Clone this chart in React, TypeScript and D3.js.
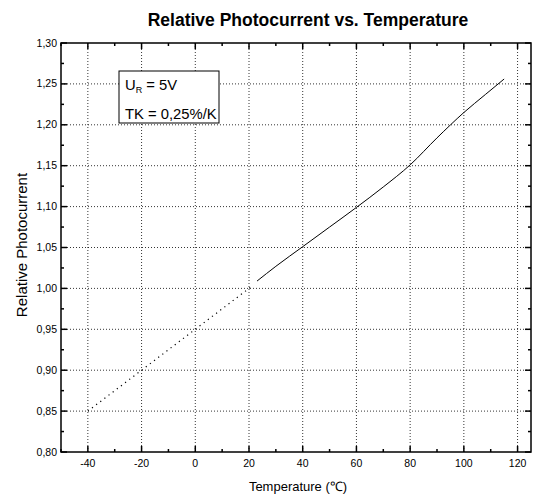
import React from "react";
import * as d3 from "d3";

const xTicks = [-40, -20, 0, 20, 40, 60, 80, 100, 120];
const yTicks = [0.8, 0.85, 0.9, 0.95, 1.0, 1.05, 1.1, 1.15, 1.2, 1.25, 1.3];
const dottedT = [-40, -20, 0, 20, 21.5];
const dottedV = [0.85, 0.9, 0.95, 1.0, 1.004];
const solidT = [23, 30, 40, 50, 60, 70, 80, 90, 100, 108, 115];
const solidV = [1.009, 1.027, 1.051, 1.075, 1.099, 1.124, 1.151, 1.184, 1.215, 1.237, 1.256];

const W = 533, H = 496;
const L = 61, R = 531, T = 43, B = 452;

export default function App() {
  const x = d3.scaleLinear().domain([-50, 125]).range([L, R]);
  const y = d3.scaleLinear().domain([0.8, 1.3]).range([B, T]);
  const line = d3.line<[number, number]>().x(d => x(d[0])).y(d => y(d[1]));
  const sline = d3.line<[number, number]>().x(d => x(d[0])).y(d => y(d[1])).curve(d3.curveMonotoneX);
  const dotted = dottedT.map((t, i) => [t, dottedV[i]] as [number, number]);
  const solid = solidT.map((t, i) => [t, solidV[i]] as [number, number]);
  const xMinor = d3.range(-50, 126, 10);
  const yMinor = d3.range(0, 21).map(i => 0.8 + i * 0.025);
  const font = "Liberation Sans, Arial, sans-serif";
  const fmt = (v: number) => v.toFixed(2).replace(".", ",");
  return (
    <svg width={W} height={H} style={{ position: "absolute", left: 0, top: 0 }} fontFamily={font}>
      <rect width={W} height={H} fill="#fff" />
      <text x={308} y={26} textAnchor="middle" fontSize={17.5} fontWeight="bold">Relative Photocurrent vs. Temperature</text>
      {xTicks.map(t => (
        <line key={"gx" + t} x1={x(t)} x2={x(t)} y1={T} y2={B} stroke="#000" strokeWidth={0.8} strokeDasharray="1,2" />
      ))}
      {yTicks.slice(1, -1).map(t => (
        <line key={"gy" + t} x1={L} x2={R} y1={y(t)} y2={y(t)} stroke="#000" strokeWidth={0.8} strokeDasharray="1,2" />
      ))}
      <path d={line(dotted) || ""} fill="none" stroke="#000" strokeWidth={1.2} strokeDasharray="1.2,4" />
      <path d={sline(solid) || ""} fill="none" stroke="#000" strokeWidth={1} />
      <rect x={L} y={T} width={R - L} height={B - T} fill="none" stroke="#000" strokeWidth={1.5} />
      {xMinor.map(t => {
        const major = xTicks.includes(t);
        const len = major ? 6 : 3;
        return (
          <g key={"xt" + t}>
            <line x1={x(t)} x2={x(t)} y1={B} y2={B - len} stroke="#000" strokeWidth={1.5} />
            <line x1={x(t)} x2={x(t)} y1={T} y2={T + len} stroke="#000" strokeWidth={1.5} />
          </g>
        );
      })}
      {yMinor.map((t, i) => {
        const major = i % 2 === 0;
        const len = major ? 6 : 3;
        return (
          <g key={"yt" + i}>
            <line x1={L} x2={L + len} y1={y(t)} y2={y(t)} stroke="#000" strokeWidth={1.5} />
            <line x1={R} x2={R - len} y1={y(t)} y2={y(t)} stroke="#000" strokeWidth={1.5} />
          </g>
        );
      })}
      {xTicks.map(t => (
        <text key={"xl" + t} x={x(t)} y={467} textAnchor="middle" fontSize={10.5}>{t}</text>
      ))}
      {yTicks.map(t => (
        <text key={"yl" + t} x={57} y={y(t) + 3.5} textAnchor="end" fontSize={10.5}>{fmt(t)}</text>
      ))}
      <text x={298} y={491} textAnchor="middle" fontSize={13}>Temperature (℃)</text>
      <text transform={`translate(27,245) rotate(-90)`} textAnchor="middle" fontSize={15}>Relative Photocurrent</text>
      <rect x={119} y={71} width={100} height={52} fill="#fff" stroke="#000" strokeWidth={1} />
      <text x={125} y={90} fontSize={14.8}>U<tspan fontSize={9} dy={3}>R</tspan><tspan dy={-3}> = 5V</tspan></text>
      <text x={125} y={119} fontSize={14.8}>TK = 0,25%/K</text>
    </svg>
  );
}
